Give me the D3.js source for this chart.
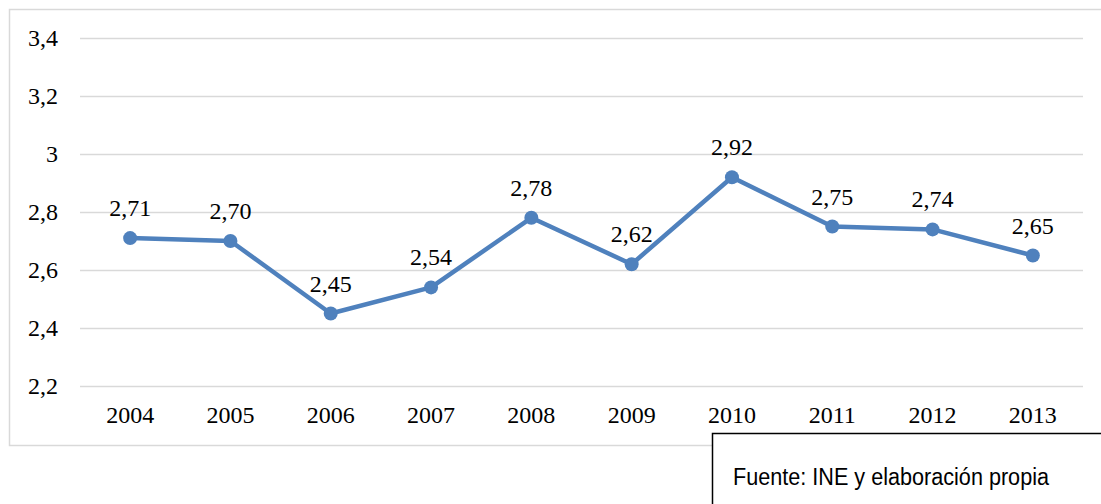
<!DOCTYPE html>
<html lang="es">
  <head>
    <meta charset="UTF-8" />
    <title>Serie 2004-2013</title>
    <script src="https://d3js.org/d3.v7.min.js"></script>
    <style>
      body { margin: 0; background: #fff; }
      .chart { width: 1101px; height: 504px; }
    </style>
  </head>
  <body>
    <div class="chart"></div>
  </body>

  <script>
    var years = ["2004", "2005", "2006", "2007", "2008", "2009", "2010", "2011", "2012", "2013"];
    var values = [2.71, 2.70, 2.45, 2.54, 2.78, 2.62, 2.92, 2.75, 2.74, 2.65];
    var yTicks = [2.2, 2.4, 2.6, 2.8, 3, 3.2, 3.4];
    var sourceText = "Fuente: INE y elaboración propia";

    var margin = { top: 38, right: 18, bottom: 118, left: 80 };
    var W = 1101, H = 504;
    var width = W - margin.left - margin.right;
    var height = H - margin.top - margin.bottom;
    var serif = "'Liberation Serif', 'DejaVu Serif', serif";

    var comma = function (v, d) {
      return (d == null ? String(v) : v.toFixed(d)).replace(".", ",");
    };

    var svg = d3.select(".chart").append("svg")
      .attr("width", W).attr("height", H);

    // chart frame
    svg.append("rect")
      .attr("x", 9.5).attr("y", 9.5)
      .attr("width", W + 10).attr("height", 436)
      .attr("fill", "#fff").attr("stroke", "#d9d9d9").attr("stroke-width", 1.5);

    var g = svg.append("g")
      .attr("transform", "translate(" + margin.left + "," + margin.top + ")");

    var x = d3.scaleBand().domain(years).range([0, width]);
    var y = d3.scaleLinear().domain([2.2, 3.4]).range([height, 0]);

    // gridlines + y labels
    var yAxis = d3.axisLeft(y).tickValues(yTicks).tickSize(-width)
      .tickPadding(22).tickFormat(function (d) { return comma(d); });
    g.append("g").call(yAxis)
      .call(function (s) { s.select(".domain").remove(); })
      .call(function (s) {
        s.selectAll(".tick line").attr("stroke", "#d9d9d9").attr("stroke-width", 1.5);
        s.selectAll(".tick text")
          .attr("font-family", serif)
          .attr("font-size", 24).attr("fill", "#000");
      });

    // x labels
    var xAxis = d3.axisBottom(x).tickSize(0).tickPadding(20);
    g.append("g").attr("transform", "translate(0," + height + ")").call(xAxis)
      .call(function (s) { s.select(".domain").remove(); })
      .call(function (s) {
        s.selectAll(".tick text")
          .attr("font-family", serif)
          .attr("font-size", 24).attr("fill", "#000");
      });

    var cx = function (d, i) { return x(years[i]) + x.bandwidth() / 2; };

    var line = d3.line()
      .x(function (d, i) { return cx(d, i); })
      .y(function (d) { return y(d); });

    g.append("path").datum(values)
      .attr("fill", "none").attr("stroke", "#4f81bd")
      .attr("stroke-width", 4.5).attr("stroke-linejoin", "round")
      .attr("d", line);

    g.selectAll("circle.pt").data(values).enter().append("circle")
      .attr("class", "pt")
      .attr("cx", cx).attr("cy", function (d) { return y(d); })
      .attr("r", 7).attr("fill", "#4f81bd");

    g.selectAll("text.lbl").data(values).enter().append("text")
      .attr("class", "lbl")
      .attr("x", cx).attr("y", function (d) { return y(d) - 22; })
      .attr("text-anchor", "middle")
      .attr("font-family", serif)
      .attr("font-size", 24).attr("fill", "#000")
      .text(function (d) { return comma(d, 2); });

    // source box (narrow sans look)
    svg.append("rect")
      .attr("x", 712.5).attr("y", 433.5)
      .attr("width", 400).attr("height", 100)
      .attr("fill", "#fff").attr("stroke", "#000").attr("stroke-width", 1.5);
    svg.append("text")
      .attr("x", 733).attr("y", 485)
      .attr("font-family", "'Liberation Sans Narrow', 'Liberation Sans', Arial, sans-serif")
      .attr("font-size", 23).attr("fill", "#000")
      .attr("textLength", 316).attr("lengthAdjust", "spacingAndGlyphs")
      .text(sourceText);
  </script>
</html>
